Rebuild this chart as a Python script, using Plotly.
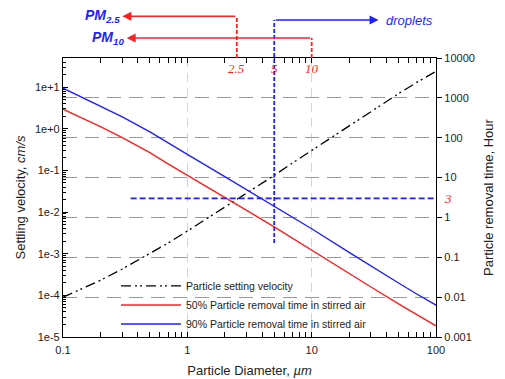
import math
import plotly.graph_objects as go

# ---- data ----
diameter_um = [0.1, 0.2, 0.3, 0.5, 0.7, 1, 2, 3, 5, 7, 10, 20, 30, 50, 70, 100]
settling_velocity_cm_s = [9.0e-5, 2.3e-4, 4.3e-4, 1.0e-3, 1.8e-3, 3.5e-3, 1.3e-2, 2.8e-2,
                          7.6e-2, 0.15, 0.30, 1.2, 2.6, 7.0, 13, 24]
removal_50_hr = [520, 190, 100, 42, 22, 11.5, 3.2, 1.5, 0.58, 0.30, 0.155, 0.040, 0.018,
                 0.0068, 0.0036, 0.0019]
removal_90_hr = [1750, 630, 335, 140, 73, 38, 10.6, 5.0, 1.93, 1.0, 0.52, 0.133, 0.060,
                 0.0226, 0.012, 0.0063]

x_ticks = [0.1, 1, 10, 100]
x_ticktext = ["0.1", "1", "10", "100"]
left_ticks = [1e-5, 1e-4, 1e-3, 1e-2, 1e-1, 1, 10]
left_ticktext = ["1e-5", "1e-4", "1e-3", "1e-2", "1e-1", "1e+0", "1e+1"]
right_ticks = [0.001, 0.01, 0.1, 1, 10, 100, 1000, 10000]
right_ticktext = ["0.001", "0.01", "0.1", "1", "10", "100", "1000", "10000"]

pm_marks = [2.5, 5, 10]
ach_hours = 3

FONT = "Arial, Liberation Sans, sans-serif"
SERIF = "Liberation Serif, Times New Roman, serif"
BLUE = "#1f1fff"
RED = "#ff1f1f"
L = math.log10  # annotations on log axes take log10 positions

fig = go.Figure()
fig.add_trace(go.Scatter(x=diameter_um, y=settling_velocity_cm_s, mode="lines",
                         name="Particle setting velocity",
                         line=dict(color="black", width=1.3, dash="10px,4px,2px,3px,2px,4px"),
                         yaxis="y"))
fig.add_trace(go.Scatter(x=diameter_um, y=removal_50_hr, mode="lines",
                         name="50% Particle removal time in stirred air",
                         line=dict(color=RED, width=1.4), yaxis="y2"))
fig.add_trace(go.Scatter(x=diameter_um, y=removal_90_hr, mode="lines",
                         name="90% Particle removal time in stirred air",
                         line=dict(color=BLUE, width=1.4), yaxis="y2"))

tickfont = dict(family=FONT, size=11, color="#222")

# page has an 8px body margin, so the figure is sized to fit the 505x379 window
fig.update_layout(
    width=497, height=371,
    margin=dict(l=55, r=69, t=50, b=42, autoexpand=False),
    paper_bgcolor="white", plot_bgcolor="white",
    font=dict(family=FONT, size=11, color="#222"),
    showlegend=True,
    legend=dict(x=0.142, y=0.235, xanchor="left", yanchor="top",
                bgcolor="rgba(0,0,0,0)", borderwidth=0,
                font=dict(family=FONT, size=10.5, color="#222"),
                tracegroupgap=0, itemwidth=60),
    xaxis=dict(type="log", range=[-1, 2], tickvals=x_ticks, ticktext=x_ticktext,
               tickfont=tickfont, ticks="inside", ticklen=5, tickcolor="black",
               ticklabelstandoff=3,
               showline=True, linecolor="black", linewidth=1.2, mirror="allticks",
               showgrid=True, gridcolor="#d4d4d4", griddash="9px,6px", gridwidth=1.2,
               zeroline=False,
               minor=dict(dtick="D1", ticks="inside", ticklen=3, tickcolor="black", showgrid=False),
               title=dict(text="Particle Diameter, <i>\u00b5m</i>", standoff=10,
                          font=dict(family=FONT, size=13, color="#222"))),
    yaxis=dict(type="log", range=[-5, 1.70], tickvals=left_ticks, ticktext=left_ticktext,
               tickfont=tickfont, ticks="inside", ticklen=5, tickcolor="black",
               showline=True, linecolor="black", linewidth=1.2, mirror=False,
               showgrid=False, zeroline=False,
               minor=dict(dtick="D1", ticks="inside", ticklen=3, tickcolor="black", showgrid=False),
               title=dict(text="Settling velocity, <i>cm/s</i>", standoff=6,
                          font=dict(family=FONT, size=13, color="#222"))),
    yaxis2=dict(type="log", range=[-3, 4], overlaying="y", side="right",
                tickvals=right_ticks, ticktext=right_ticktext, tickfont=tickfont,
                ticks="outside", ticklen=5, tickcolor="black",
                showline=True, linecolor="black", linewidth=1.2,
                showgrid=True, gridcolor="#9a9a9a", griddash="14px,8px", gridwidth=1.2,
                zeroline=False,
                title=dict(text="Particle removal time, Hour", standoff=10,
                           font=dict(family=FONT, size=13, color="#222"))),
)

# --- decorations: PM markers and droplets ---
pm25_y = 1.15
pm10_y = 1.072
drop_y = 1.136

# red dashed verticals above the axis (shapes use raw data values)
for xv, yv in [(2.5, pm25_y), (10, pm10_y)]:
    fig.add_shape(type="line", xref="x", yref="paper", x0=xv, x1=xv, y0=1.0, y1=yv,
                  line=dict(color=RED, width=1.8, dash="4px,2px"))
# red arrows to the left
fig.add_annotation(xref="x", yref="paper", x=L(0.30), y=pm25_y, axref="x", ax=L(2.5), ayref="pixel", ay=0,
                   showarrow=True, arrowhead=2, arrowsize=1.2, arrowwidth=1.5, arrowcolor=RED, text="")
fig.add_annotation(xref="x", yref="paper", x=L(0.325), y=pm10_y, axref="x", ax=L(10), ayref="pixel", ay=0,
                   showarrow=True, arrowhead=2, arrowsize=1.2, arrowwidth=1.5, arrowcolor=RED, text="")
fig.add_annotation(xref="x", yref="paper", x=L(0.30), y=pm25_y, xanchor="right", yanchor="middle",
                   showarrow=False, text="<b><i>PM<sub>2.5</sub></i></b>",
                   font=dict(family=FONT, size=14, color=BLUE))
fig.add_annotation(xref="x", yref="paper", x=L(0.32), y=pm10_y, xanchor="right", yanchor="middle",
                   showarrow=False, text="<b><i>PM<sub>10</sub></i></b>",
                   font=dict(family=FONT, size=14, color=BLUE))

# blue droplets marker
fig.add_shape(type="line", xref="x", yref="paper", x0=5, x1=5, y0=0.337, y1=drop_y,
              line=dict(color=BLUE, width=1.8, dash="4px,2px"))
fig.add_annotation(xref="x", yref="paper", x=L(34.5), y=drop_y, axref="x", ax=L(5), ayref="pixel", ay=0,
                   showarrow=True, arrowhead=2, arrowsize=1.2, arrowwidth=1.5, arrowcolor=BLUE, text="")
fig.add_annotation(xref="x", yref="paper", x=L(38), y=drop_y, xanchor="left", yanchor="middle",
                   showarrow=False, text="<i>droplets</i>",
                   font=dict(family=FONT, size=13, color=BLUE))

# red labels below top axis
for v in pm_marks:
    fig.add_annotation(xref="x", yref="paper", x=L(v), y=0.995, yanchor="top", showarrow=False,
                       text="<i>%g</i>" % v, font=dict(family=SERIF, size=13, color=RED))

# 3-hour line
fig.add_shape(type="line", xref="x", yref="y2", x0=0.35, x1=100, y0=ach_hours, y1=ach_hours,
              line=dict(color=BLUE, width=1.8, dash="6px,3px"))
fig.add_annotation(xref="paper", yref="y2", x=1.015, y=L(ach_hours), xanchor="left", showarrow=False,
                   text="<i>3</i>", font=dict(family=SERIF, size=13, color=RED))

fig.write_html("out.html")
